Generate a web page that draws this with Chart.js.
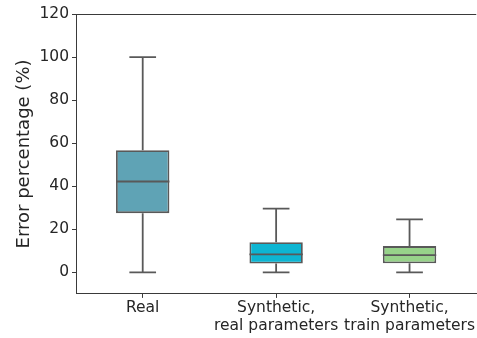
<!DOCTYPE html>
<html>
<head>
<meta charset="utf-8">
<script src="https://cdn.jsdelivr.net/npm/chart.js@4/dist/chart.umd.min.js"></script>
<style>
  html, body { margin: 0; padding: 0; background: #ffffff; }
  #wrap { width: 477px; height: 338px; }
</style>
</head>
<body>
<div id="wrap"><canvas id="boxChart"></canvas></div>
<script>
// datos
const categories = ['Real', ['Synthetic,', 'real parameters'], ['Synthetic,', 'train parameters']];
const whiskerLow = [0, 0, 0];
const q1Values = [27.5, 4.1, 4.2];
const medianValues = [42.2, 8.4, 8.0];
const q3Values = [56.7, 14.0, 12.2];
const whiskerHigh = [100, 29.6, 24.6];
const yTicks = [0, 20, 40, 60, 80, 100, 120];
const boxColors = ['#5fa3b5', '#0db5d2', '#97d38a'];

const lineGray = '#595959';
const axisGray = '#3a3a3a';
const textColor = '#262626';

Chart.defaults.font.family = '"DejaVu Sans", sans-serif';
Chart.defaults.color = textColor;

// bigotes y medianas dibujados con las escalas del gráfico
const whiskerPlugin = {
  id: 'whiskers',
  afterDatasetsDraw(chart) {
    const ctx = chart.ctx;
    const x = chart.scales.x;
    const y = chart.scales.y;
    const meta = chart.getDatasetMeta(0);
    ctx.save();
    ctx.strokeStyle = lineGray;
    ctx.lineWidth = 1.8;
    meta.data.forEach((bar, i) => {
      const cx = x.getPixelForValue(i);
      const half = bar.width / 2;
      const capHalf = half / 2;
      const yLow = y.getPixelForValue(whiskerLow[i]);
      const yHigh = y.getPixelForValue(whiskerHigh[i]);
      const yQ1 = y.getPixelForValue(q1Values[i]);
      const yQ3 = y.getPixelForValue(q3Values[i]);
      const yMed = y.getPixelForValue(medianValues[i]);
      ctx.beginPath();
      ctx.moveTo(cx, yQ3); ctx.lineTo(cx, yHigh);
      ctx.moveTo(cx - capHalf, yHigh); ctx.lineTo(cx + capHalf, yHigh);
      ctx.moveTo(cx, yQ1); ctx.lineTo(cx, yLow);
      ctx.moveTo(cx - capHalf, yLow); ctx.lineTo(cx + capHalf, yLow);
      ctx.moveTo(cx - half, yMed); ctx.lineTo(cx + half, yMed);
      ctx.stroke();
    });
    // marco superior
    const area = chart.chartArea;
    ctx.strokeStyle = axisGray;
    ctx.lineWidth = 1;
    ctx.beginPath();
    ctx.moveTo(area.left, area.top + 0.5);
    ctx.lineTo(area.right, area.top + 0.5);
    ctx.stroke();
    ctx.restore();
  }
};

const ctxBox = document.getElementById('boxChart').getContext('2d');
const boxChart = new Chart(ctxBox, {
  type: 'bar',
  data: {
    labels: categories,
    datasets: [{
      data: q1Values.map((q1, i) => [q1, q3Values[i]]),
      backgroundColor: boxColors,
      borderColor: lineGray,
      borderWidth: 1.8,
      borderSkipped: false,
      categoryPercentage: 1.0,
      barPercentage: 0.4
    }]
  },
  options: {
    responsive: true,
    maintainAspectRatio: false,
    animation: false,
    events: [],
    layout: { padding: { left: 14, right: -3, top: 14, bottom: 2 } },
    plugins: {
      legend: { display: false },
      tooltip: { enabled: false }
    },
    scales: {
      x: {
        grid: { display: true, offset: false, drawOnChartArea: false, drawTicks: true, tickLength: 4, color: axisGray },
        border: { display: true, color: axisGray, width: 1 },
        ticks: { color: textColor, font: { size: 15.5, lineHeight: 1.1 }, padding: 2, maxRotation: 0, autoSkip: false }
      },
      y: {
        min: -10,
        max: 120,
        afterBuildTicks: axis => { axis.ticks = yTicks.map(v => ({ value: v })); },
        afterFit: axis => { axis.width = 62; },
        grid: { display: true, drawOnChartArea: false, drawTicks: true, tickLength: 4, color: axisGray },
        border: { display: true, color: axisGray, width: 1 },
        ticks: { color: textColor, font: { size: 15.5 }, padding: 3 },
        title: { display: true, text: 'Error percentage (%)', color: textColor, font: { size: 18 }, padding: 0 }
      }
    }
  },
  plugins: [whiskerPlugin]
});
</script>
</body>
</html>
